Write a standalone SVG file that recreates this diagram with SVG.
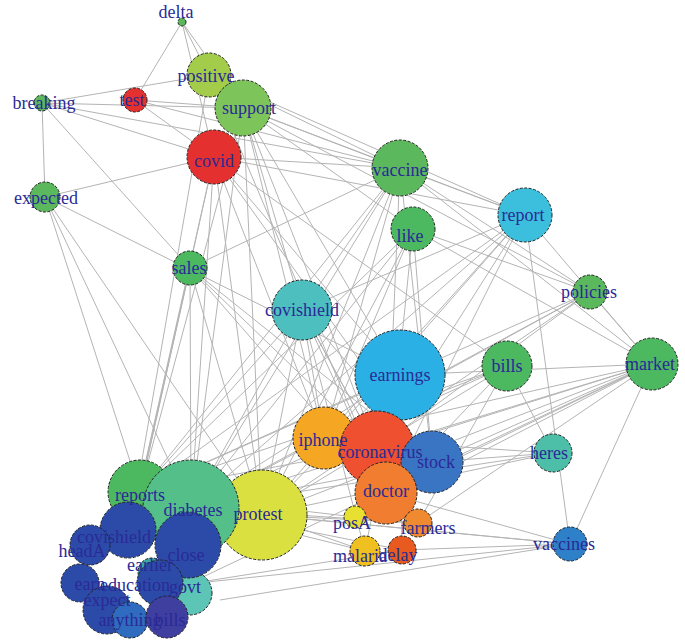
<svg xmlns="http://www.w3.org/2000/svg" width="685" height="640" viewBox="0 0 685 640">
<style>
.e line{stroke:#b4b4b4;stroke-width:1}
circle{stroke:#222;stroke-width:1;stroke-dasharray:3 1.5}
text{font-family:"Liberation Serif",serif;font-size:18px;fill:#2a2a96;text-anchor:middle;dominant-baseline:central}
</style>
<rect width="685" height="640" fill="#fff"/>
<g class="e">
<line x1="182" y1="22" x2="243" y2="108"/><line x1="182" y1="22" x2="135" y2="100"/><line x1="182" y1="22" x2="214" y2="157"/><line x1="182" y1="22" x2="209" y2="75"/>
<line x1="42" y1="103" x2="243" y2="108"/><line x1="42" y1="103" x2="209" y2="75"/><line x1="42" y1="103" x2="214" y2="157"/><line x1="42" y1="103" x2="45" y2="197"/><line x1="42" y1="103" x2="400" y2="168"/><line x1="42" y1="103" x2="190" y2="268"/>
<line x1="135" y1="100" x2="243" y2="108"/><line x1="135" y1="100" x2="400" y2="168"/><line x1="135" y1="100" x2="214" y2="157"/>
<line x1="243" y1="108" x2="400" y2="168"/><line x1="243" y1="108" x2="525" y2="215"/><line x1="243" y1="108" x2="413" y2="229"/><line x1="243" y1="108" x2="400" y2="375"/><line x1="243" y1="108" x2="377" y2="448"/><line x1="243" y1="108" x2="191" y2="508"/><line x1="243" y1="108" x2="302" y2="310"/><line x1="243" y1="108" x2="590" y2="292"/>
<line x1="214" y1="157" x2="400" y2="168"/><line x1="214" y1="157" x2="525" y2="215"/><line x1="214" y1="157" x2="140" y2="492"/><line x1="214" y1="157" x2="191" y2="508"/><line x1="214" y1="157" x2="262" y2="515"/><line x1="214" y1="157" x2="400" y2="375"/><line x1="214" y1="157" x2="324" y2="438"/><line x1="214" y1="157" x2="432" y2="462"/><line x1="214" y1="157" x2="507" y2="366"/>
<line x1="209" y1="75" x2="400" y2="168"/><line x1="209" y1="75" x2="525" y2="215"/><line x1="209" y1="75" x2="386" y2="493"/><line x1="209" y1="75" x2="128" y2="540"/>
<line x1="45" y1="197" x2="214" y2="157"/><line x1="45" y1="197" x2="140" y2="492"/><line x1="45" y1="197" x2="262" y2="515"/><line x1="45" y1="197" x2="400" y2="375"/><line x1="45" y1="197" x2="191" y2="508"/>
<line x1="400" y1="168" x2="525" y2="215"/><line x1="400" y1="168" x2="190" y2="268"/><line x1="400" y1="168" x2="262" y2="515"/><line x1="400" y1="168" x2="191" y2="508"/><line x1="400" y1="168" x2="386" y2="493"/><line x1="400" y1="168" x2="590" y2="292"/><line x1="400" y1="168" x2="652" y2="364"/><line x1="400" y1="168" x2="140" y2="492"/>
<line x1="525" y1="215" x2="652" y2="364"/><line x1="525" y1="215" x2="262" y2="515"/><line x1="525" y1="215" x2="191" y2="508"/><line x1="525" y1="215" x2="377" y2="448"/><line x1="525" y1="215" x2="570" y2="544"/><line x1="525" y1="215" x2="140" y2="492"/>
<line x1="413" y1="229" x2="191" y2="508"/><line x1="413" y1="229" x2="262" y2="515"/><line x1="413" y1="229" x2="652" y2="364"/><line x1="413" y1="229" x2="140" y2="492"/><line x1="413" y1="229" x2="590" y2="292"/>
<line x1="190" y1="268" x2="191" y2="508"/><line x1="190" y1="268" x2="386" y2="493"/><line x1="190" y1="268" x2="432" y2="462"/><line x1="190" y1="268" x2="140" y2="492"/>
<line x1="590" y1="292" x2="652" y2="364"/><line x1="590" y1="292" x2="191" y2="508"/><line x1="590" y1="292" x2="262" y2="515"/><line x1="590" y1="292" x2="377" y2="448"/>
<line x1="302" y1="310" x2="191" y2="508"/><line x1="302" y1="310" x2="262" y2="515"/><line x1="302" y1="310" x2="432" y2="462"/><line x1="302" y1="310" x2="140" y2="492"/>
<line x1="652" y1="364" x2="191" y2="508"/><line x1="652" y1="364" x2="262" y2="515"/><line x1="652" y1="364" x2="432" y2="462"/><line x1="652" y1="364" x2="570" y2="544"/><line x1="652" y1="364" x2="386" y2="493"/><line x1="652" y1="364" x2="188" y2="584"/><line x1="652" y1="364" x2="377" y2="448"/><line x1="652" y1="364" x2="324" y2="438"/>
<line x1="507" y1="366" x2="191" y2="508"/><line x1="507" y1="366" x2="262" y2="515"/><line x1="507" y1="366" x2="140" y2="492"/><line x1="507" y1="366" x2="553" y2="453"/><line x1="507" y1="366" x2="324" y2="438"/>
<line x1="400" y1="375" x2="191" y2="508"/><line x1="400" y1="375" x2="140" y2="492"/><line x1="400" y1="375" x2="262" y2="515"/><line x1="400" y1="375" x2="652" y2="364"/>
<line x1="553" y1="453" x2="191" y2="508"/><line x1="553" y1="453" x2="262" y2="515"/><line x1="553" y1="453" x2="432" y2="462"/><line x1="553" y1="453" x2="324" y2="438"/>
<line x1="570" y1="544" x2="262" y2="515"/><line x1="570" y1="544" x2="191" y2="508"/><line x1="570" y1="544" x2="188" y2="584"/><line x1="570" y1="544" x2="402" y2="550"/><line x1="570" y1="544" x2="386" y2="493"/><line x1="570" y1="544" x2="220" y2="600"/>
<line x1="432" y1="462" x2="191" y2="508"/><line x1="377" y1="448" x2="140" y2="492"/><line x1="324" y1="438" x2="191" y2="508"/>
<line x1="418" y1="523" x2="191" y2="508"/><line x1="365" y1="551" x2="191" y2="508"/><line x1="355" y1="517" x2="140" y2="492"/><line x1="402" y1="550" x2="188" y2="584"/>
<line x1="302" y1="310" x2="377" y2="448"/><line x1="302" y1="310" x2="386" y2="493"/><line x1="302" y1="310" x2="324" y2="438"/><line x1="302" y1="310" x2="525" y2="215"/><line x1="302" y1="310" x2="400" y2="168"/>
<line x1="413" y1="229" x2="386" y2="493"/><line x1="413" y1="229" x2="324" y2="438"/><line x1="413" y1="229" x2="432" y2="462"/><line x1="400" y1="168" x2="324" y2="438"/><line x1="400" y1="168" x2="432" y2="462"/>
<line x1="525" y1="215" x2="324" y2="438"/><line x1="525" y1="215" x2="386" y2="493"/><line x1="590" y1="292" x2="324" y2="438"/><line x1="590" y1="292" x2="140" y2="492"/>
<line x1="507" y1="366" x2="386" y2="493"/><line x1="507" y1="366" x2="418" y2="523"/><line x1="652" y1="364" x2="418" y2="523"/><line x1="652" y1="364" x2="355" y2="517"/>
<line x1="190" y1="268" x2="262" y2="515"/><line x1="190" y1="268" x2="377" y2="448"/><line x1="190" y1="268" x2="128" y2="540"/><line x1="214" y1="157" x2="128" y2="540"/>
<line x1="243" y1="108" x2="140" y2="492"/><line x1="243" y1="108" x2="262" y2="515"/><line x1="243" y1="108" x2="324" y2="438"/>
<line x1="302" y1="310" x2="418" y2="523"/><line x1="302" y1="310" x2="365" y2="551"/><line x1="400" y1="375" x2="365" y2="551"/><line x1="400" y1="375" x2="402" y2="550"/>
<line x1="262" y1="515" x2="365" y2="551"/><line x1="262" y1="515" x2="418" y2="523"/><line x1="191" y1="508" x2="402" y2="550"/>
</g>
<g id="n-delta"><circle cx="182" cy="22" r="4" fill="#5cb85c"/></g>
<g id="n-positive"><circle cx="209" cy="75" r="22" fill="#a3cc4a"/></g>
<g id="n-test"><circle cx="135" cy="100" r="12" fill="#e4302e"/></g>
<g id="n-breaking"><circle cx="42" cy="103" r="8" fill="#5cb85c"/></g>
<g id="n-support"><circle cx="243" cy="108" r="28" fill="#7dc45a"/></g>
<g id="n-covid"><circle cx="214" cy="157" r="27" fill="#e4302e"/></g>
<g id="n-vaccine"><circle cx="400" cy="168" r="28" fill="#5cb85c"/></g>
<g id="n-report"><circle cx="525" cy="215" r="27" fill="#3bbfdc"/></g>
<g id="n-like"><circle cx="413" cy="229" r="22" fill="#4cb860"/></g>
<g id="n-expected"><circle cx="45" cy="197" r="15" fill="#5cb85c"/></g>
<g id="n-sales"><circle cx="190" cy="268" r="17" fill="#4cb860"/></g>
<g id="n-policies"><circle cx="590" cy="292" r="17" fill="#5cb85c"/></g>
<g id="n-covishield"><circle cx="302" cy="310" r="30" fill="#4dbfbf"/></g>
<g id="n-earnings"><circle cx="400" cy="375" r="45" fill="#2ab0e5"/></g>
<g id="n-bills"><circle cx="507" cy="366" r="25" fill="#4cb860"/></g>
<g id="n-market"><circle cx="652" cy="364" r="26" fill="#4cb860"/></g>
<g id="n-heres"><circle cx="553" cy="453" r="19" fill="#4dbfa8"/></g>
<g id="n-iphone"><circle cx="324" cy="438" r="31" fill="#f5a623"/></g>
<g id="n-coronavirus"><circle cx="377" cy="448" r="37" fill="#ee5030"/></g>
<g id="n-stock"><circle cx="432" cy="462" r="31" fill="#3a75c4"/></g>
<g id="n-doctor"><circle cx="386" cy="493" r="31" fill="#f07d30"/></g>
<g id="n-protest"><circle cx="262" cy="515" r="45" fill="#d9e040"/></g>
<g id="n-reports"><circle cx="140" cy="492" r="32" fill="#4cb860"/></g>
<g id="n-diabetes"><circle cx="191" cy="508" r="48" fill="#55bf8a"/></g>
<g id="n-posA"><circle cx="355" cy="517" r="11" fill="#e8e030"/></g>
<g id="n-farmers"><circle cx="418" cy="523" r="14" fill="#f08a30"/></g>
<g id="n-vaccines"><circle cx="570" cy="544" r="17" fill="#2e80c8"/></g>
<g id="n-malaria"><circle cx="365" cy="551" r="15" fill="#f0c020"/></g>
<g id="n-delay"><circle cx="402" cy="550" r="14" fill="#e85a20"/></g>
<g id="n-govt"><circle cx="190" cy="593" r="22" fill="#5cc5b5"/></g>
<g id="n-earlier"><circle cx="152" cy="572" r="14" fill="#3ca8a0"/></g>
<g id="n-covishield2"><circle cx="128" cy="530" r="28" fill="#2c4aa8"/></g>
<g id="n-headA"><circle cx="90" cy="545" r="20" fill="#2c4aa8"/></g>
<g id="n-close"><circle cx="188" cy="545" r="33" fill="#2c4aa8"/></g>
<g id="n-earn"><circle cx="80" cy="583" r="19" fill="#2c4aa8"/></g>
<g id="n-education"><circle cx="160" cy="583" r="23" fill="#2c4aa8"/></g>
<g id="n-expect"><circle cx="107" cy="610" r="24" fill="#2c4aa8"/></g>
<g id="n-anything"><circle cx="130" cy="620" r="18" fill="#2f6cc0"/></g>
<g id="n-bills2"><circle cx="167" cy="617" r="21" fill="#3f3fa0"/></g>
<g id="labels">
<text x="176" y="12">delta</text><text x="206" y="76">positive</text><text x="132" y="100">test</text><text x="44" y="103">breaking</text>
<text x="249" y="108">support</text><text x="214" y="161">covid</text><text x="400" y="170">vaccine</text><text x="523" y="215">report</text>
<text x="410" y="236">like</text><text x="46" y="198">expected</text><text x="189" y="268">sales</text><text x="589" y="292">policies</text>
<text x="302" y="310">covishield</text><text x="400" y="375">earnings</text><text x="507" y="366">bills</text><text x="650" y="364">market</text>
<text x="549" y="453">heres</text><text x="323" y="440">iphone</text><text x="380" y="452">coronavirus</text><text x="436" y="462">stock</text>
<text x="386" y="491">doctor</text><text x="258" y="514">protest</text><text x="140" y="495">reports</text><text x="193" y="510">diabetes</text>
<text x="352" y="523">posA</text><text x="428" y="528">farmers</text><text x="564" y="544">vaccines</text><text x="360" y="556">malaria</text>
<text x="398" y="555">delay</text><text x="185" y="587">govt</text><text x="150" y="565">earlier</text><text x="114" y="537">covishield</text>
<text x="82" y="551">headA</text><text x="186" y="555">close</text><text x="90" y="584">earn</text><text x="135" y="585">education</text>
<text x="107" y="600">expect</text><text x="130" y="620">anything</text><text x="170" y="620">bills</text>
</g>
</svg>
